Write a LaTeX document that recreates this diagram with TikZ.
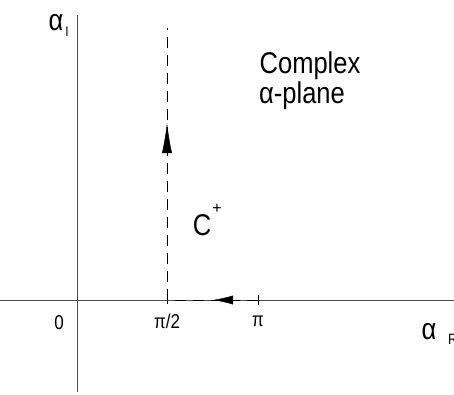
\documentclass[tikz,border=0pt]{standalone}
\usepackage{fontspec}
\usepackage{graphicx}
\setmainfont{Liberation Sans}
\usetikzlibrary{arrows.meta}
\newcommand{\cond}[1]{\scalebox{0.85}[1]{#1}}
\begin{document}
\begin{tikzpicture}[x=1pt,y=-1pt,
  axis/.style={line width=0.8pt,draw=black!70},
  contour/.style={line width=1pt,dash pattern=on 11pt off 7pt},
  lab/.style={inner sep=0pt,font=\fontsize{20}{22}\selectfont},
  big/.style={inner sep=0pt,font=\fontsize{30}{32}\selectfont},
  tip/.style={line width=0.5pt,-{Latex[length=30pt,width=10pt]}},
  tiph/.style={line width=0.5pt,-{Latex[length=20pt,width=9pt]}}]
\useasboundingbox (0,0) rectangle (454,394);
% axes
\coordinate (xl) at (0,300);
\coordinate (xr) at (454,300);
\coordinate (yt) at (77,15);
\coordinate (yb) at (77,392);
\draw[axis] (xl) -- (xr);
\draw[axis] (yt) -- (yb);
% contour points
\coordinate (pi) at (258,300);
\coordinate (pih) at (167,300);
\coordinate (top) at (167,28);
\coordinate (ah) at (213,300);
\coordinate (ahb) at (234,300);
\coordinate (av) at (167,123);
\coordinate (avb) at (167,154);
\draw[line width=0.8pt] (258,295) -- (258,305);
\draw[line width=0.8pt] (167,296) -- (167,304);
\draw[contour] (pi) -- (pih);
\draw[contour] (pih) -- (top);
\draw[tiph] (ahb) -- (ah);
\draw[tip] (avb) -- (av);
% labels
\node[lab] (zero) at (59,323) {\cond{0}};
\node[lab] (lpih) at (167,321) {\cond{π/2}};
\node[lab] (lpi) at (258,321) {\cond{π}};
\node[big,anchor=base] (aI) at (56,30) {\cond{α}};
\node[lab,anchor=base,font=\fontsize{14}{16}\selectfont] (sI) at (67,36) {\cond{I}};
\node[big,anchor=base] (aR) at (429,339) {\cond{α}};
\node[lab,anchor=base west,font=\fontsize{15}{17}\selectfont] (sR) at (448,344) {\cond{R}};
\node[big,anchor=base] (C) at (202,235) {\cond{C}};
\node[lab,anchor=base,font=\fontsize{16}{18}\selectfont] (plus) at (217,213) {+};
\node[big,anchor=base] (cx) at (310,73) {\cond{Complex}};
\node[big,anchor=base] (ap) at (302,103) {\cond{α-plane}};
\end{tikzpicture}
\end{document}
